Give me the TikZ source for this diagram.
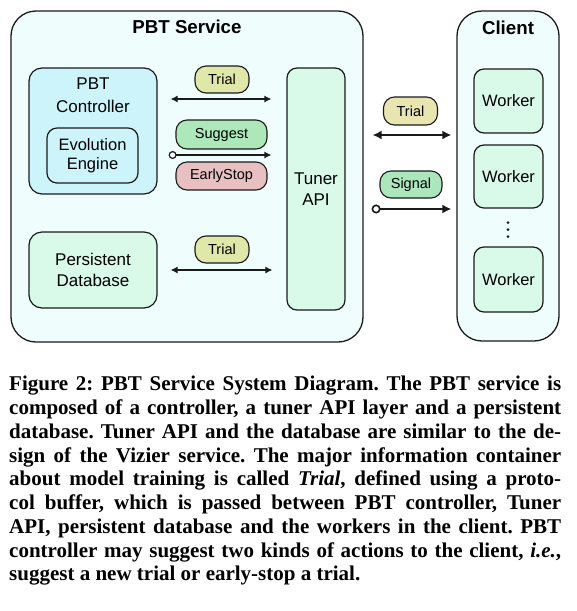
\documentclass[tikz,border=0pt]{standalone}
\usepackage{fontspec}
\setmainfont{Liberation Serif}
\setsansfont{Liberation Sans}
\usetikzlibrary{arrows.meta,calc}
\definecolor{outerfill}{HTML}{EFFDFD}
\definecolor{ctrlfill}{HTML}{CDF4FB}
\definecolor{greenfill}{HTML}{D9F9E9}
\definecolor{trialfill}{HTML}{DFE8A8}
\definecolor{trialfillB}{HTML}{E9E5B1}
\definecolor{suggfill}{HTML}{ACE8BA}
\definecolor{stopfill}{HTML}{E8C0C2}
\definecolor{sigfill}{HTML}{ABE6BC}
\definecolor{ink}{HTML}{1A1A1A}
\begin{document}
\frenchspacing
\begin{tikzpicture}[x=1pt,y=-1pt,
  container/.style={draw=ink,line width=1.3pt,fill=outerfill,rounded corners=25pt,inner sep=0pt},
  box/.style={draw=ink,line width=1.2pt,rounded corners=12pt,inner sep=0pt,align=center,
     font=\sffamily\fontsize{17}{21}\selectfont},
  pill/.style={draw=ink,line width=1.1pt,rounded corners=11pt,inner sep=0pt,
     font=\sffamily\fontsize{14.5}{17}\selectfont},
  titletext/.style={font=\sffamily\bfseries\fontsize{18.7}{22}\selectfont,inner sep=0pt},
  boxtext/.style={font=\sffamily\fontsize{17}{23}\selectfont,align=center,inner sep=0pt},
  thinarrow/.style={draw=ink,line width=1.2pt},
  thickarrow/.style={draw=ink,line width=2pt}
]
\useasboundingbox[fill=white] (0,0) rectangle (577,611);

% containers
\node[container,minimum width=352pt,minimum height=331pt] (svc) at (187,176.5) {};
\node[titletext] (svctitle) at (187,27) {PBT Service};
\node[container,minimum width=102pt,minimum height=330pt] (client) at (508,176) {};
\node[titletext] (clienttitle) at (508,28) {Client};

% PBT service contents
\node[box,fill=ctrlfill,minimum width=128pt,minimum height=126pt,rounded corners=13pt] (ctrl) at (93,131) {};
\node[boxtext] (ctrltext) at (93,95.5) {PBT\\Controller};
\node[box,fill=ctrlfill,minimum width=91pt,minimum height=55pt,rounded corners=10pt,
      font=\sffamily\fontsize{16.5}{19.5}\selectfont] (evo) at (92.5,155.5) {Evolution\\Engine};
\node[box,fill=greenfill,minimum width=128pt,minimum height=76pt,rounded corners=13pt] (db) at (93,270) {Persistent\\Database};
\node[box,fill=greenfill,minimum width=58pt,minimum height=242pt,rounded corners=10pt] (tuner) at (316,189) {Tuner\\API};

% workers
\node[box,fill=greenfill,minimum width=69pt,minimum height=64pt,rounded corners=10pt,
      font=\sffamily\fontsize{16.5}{20}\selectfont] (w1) at (508.5,101) {Worker};
\node[box,fill=greenfill,minimum width=69pt,minimum height=63pt,rounded corners=10pt,
      font=\sffamily\fontsize{16.5}{20}\selectfont] (w2) at (508.5,176.5) {Worker};
\node[box,fill=greenfill,minimum width=69pt,minimum height=65pt,rounded corners=10pt,
      font=\sffamily\fontsize{16.5}{20}\selectfont] (w3) at (508.5,279.5) {Worker};
\foreach \yy in {222.5,229.5,236.5} \fill[ink] (508,\yy) circle[radius=1.5pt];

% labels
\node[pill,fill=trialfill,minimum width=54pt,minimum height=27pt] (trialA) at (222,79.5) {Trial};
\node[pill,fill=suggfill,minimum width=91pt,minimum height=29pt] (sugg) at (221.5,134.5) {Suggest};
\node[pill,fill=stopfill,minimum width=91pt,minimum height=28pt] (stop) at (221.5,176) {EarlyStop};
\node[pill,fill=trialfill,minimum width=54pt,minimum height=27pt] (trialB) at (222,249.5) {Trial};
\node[pill,fill=trialfillB,minimum width=54pt,minimum height=28pt] (trialC) at (410.5,111) {Trial};
\node[pill,fill=sigfill,minimum width=62pt,minimum height=27pt] (sig) at (411,184.5) {Signal};

% arrow rows
\coordinate (r1) at (0,99);
\coordinate (r2) at (0,155);
\coordinate (r3) at (0,270);
\coordinate (r4) at (0,135);
\coordinate (r5) at (0,209);

\draw[thinarrow,{Latex[length=7pt,width=7pt]}-{Latex[length=7pt,width=7pt]}]
  ($(ctrl.east |- r1)+(13,0)$) -- ($(tuner.west |- r1)+(-15,0)$);
\draw[thinarrow,{Circle[length=8pt,fill=white,line width=1.2pt]}-{Latex[length=7pt,width=7pt]}]
  ($(ctrl.east |- r2)+(11,0)$) -- ($(tuner.west |- r2)+(-15,0)$);
\draw[thinarrow,{Latex[length=7pt,width=7pt]}-{Latex[length=7pt,width=7pt]}]
  ($(db.east |- r3)+(13,0)$) -- ($(tuner.west |- r3)+(-14,0)$);
\draw[thickarrow,{Latex[length=9pt,width=9pt]}-{Latex[length=9pt,width=9pt]}]
  ($(tuner.east |- r4)+(27,0)$) -- ($(client.west |- r4)+(-5,0)$);
\draw[thickarrow,{Circle[length=9pt,fill=white,line width=1.6pt]}-{Latex[length=9pt,width=9pt]}]
  ($(tuner.east |- r5)+(26,0)$) -- ($(client.west |- r5)+(-5,0)$);

% caption
\node[anchor=north west,inner sep=0pt,align=left,
      font=\bfseries\fontsize{21}{23.75}\selectfont] (caption) at (9,376) {%
\makebox[552pt][s]{Figure 2: PBT Service System Diagram. The PBT service is}\\
\makebox[552pt][s]{composed of a controller, a tuner API layer and a persistent}\\
\makebox[552pt][s]{database. Tuner API and the database are similar to the de-}\\
\makebox[552pt][s]{sign of the Vizier service. The major information container}\\
\makebox[552pt][s]{about model training is called \textit{Trial}, defined using a proto-}\\
\makebox[552pt][s]{col buffer, which is passed between PBT controller, Tuner}\\
\makebox[552pt][s]{API, persistent database and the workers in the client. PBT}\\
\makebox[552pt][s]{controller may suggest two kinds of actions to the client, \textit{i.e.},}\\
suggest a new trial or early-stop a trial.};
\end{tikzpicture}
\end{document}
